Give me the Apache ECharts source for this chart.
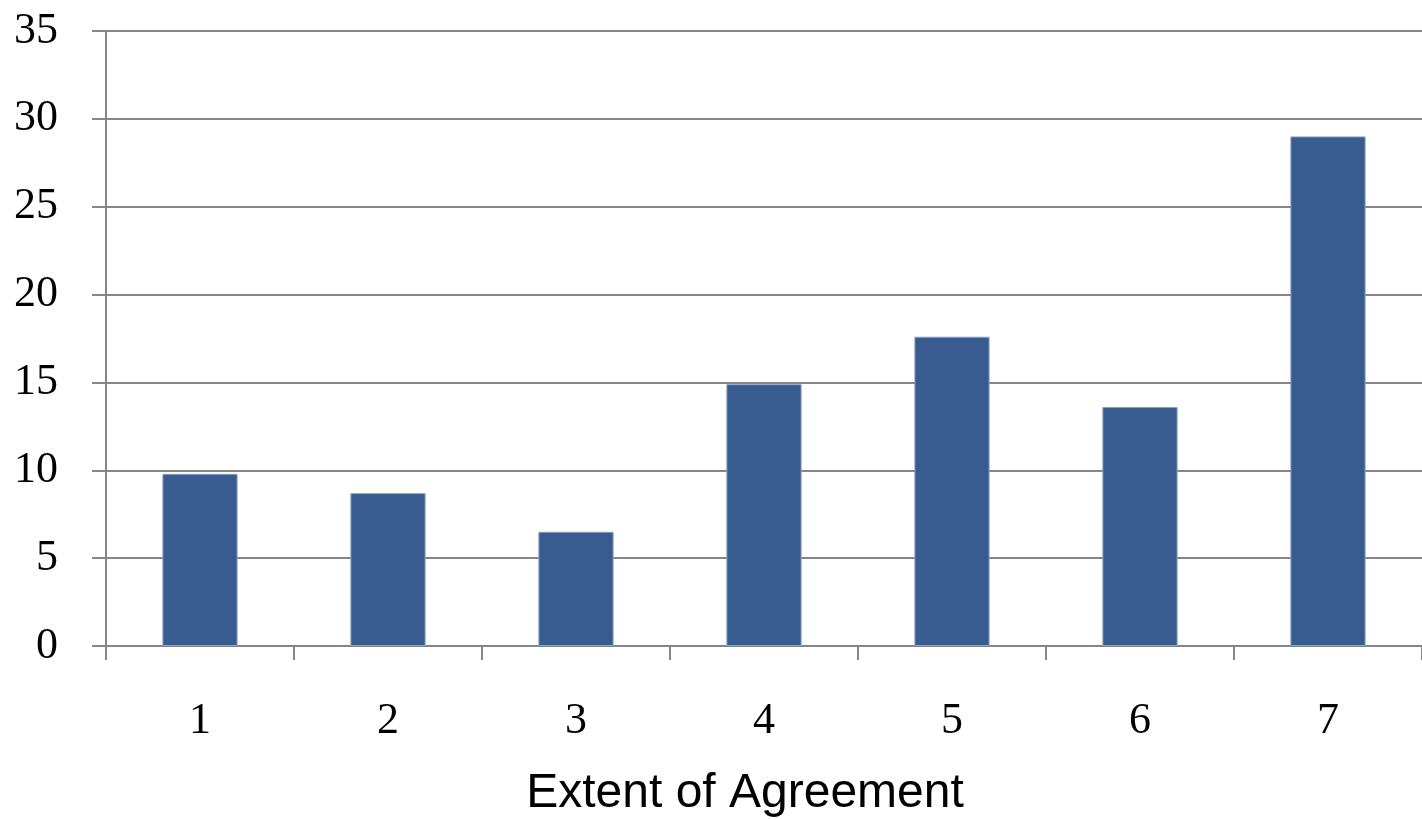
<!DOCTYPE html>
<html><head><meta charset="utf-8">
<script src="https://cdn.jsdelivr.net/npm/echarts@6/dist/echarts.min.js"></script>
<style>html,body{margin:0;padding:0;background:#fff}#c{width:1422px;height:819px}</style>
</head><body><div id="c"></div>
<script>
var categories = ['1','2','3','4','5','6','7'];
var values = [9.8, 8.7, 6.5, 14.9, 17.6, 13.6, 29.0];
var yTicks = [0,5,10,15,20,25,30,35];
var xName = 'Extent of Agreement';

var chart = echarts.init(document.getElementById('c'));
chart.setOption({
  animation:false,
  grid:{left:106,right:0,top:31,bottom:173,containLabel:false,outerBoundsMode:'none'},
  xAxis:{type:'category',data:categories,
    name:xName,nameLocation:'middle',nameGap:124,
    nameTextStyle:{fontFamily:'Liberation Sans',fontSize:48,color:'#000',padding:[0,38,0,0]},
    axisLine:{lineStyle:{color:'#868686',width:2}},
    axisTick:{show:true,length:14,lineStyle:{color:'#868686',width:2}},
    axisLabel:{fontFamily:'Liberation Serif',fontSize:44,color:'#000',margin:53}
  },
  yAxis:{type:'value',min:yTicks[0],max:yTicks[yTicks.length-1],interval:5,
    axisLine:{show:true,lineStyle:{color:'#868686',width:2}},
    axisTick:{show:true,length:14,lineStyle:{color:'#868686',width:2}},
    splitLine:{lineStyle:{color:'#868686',width:2}},
    axisLabel:{fontFamily:'Liberation Serif',fontSize:44,color:'#000',margin:48}
  },
  series:[{type:'bar',data:values,barWidth:'40%',
    itemStyle:{color:'#385B90',borderColor:'#8aa0c4',borderWidth:1}}]
});
</script></body></html>
